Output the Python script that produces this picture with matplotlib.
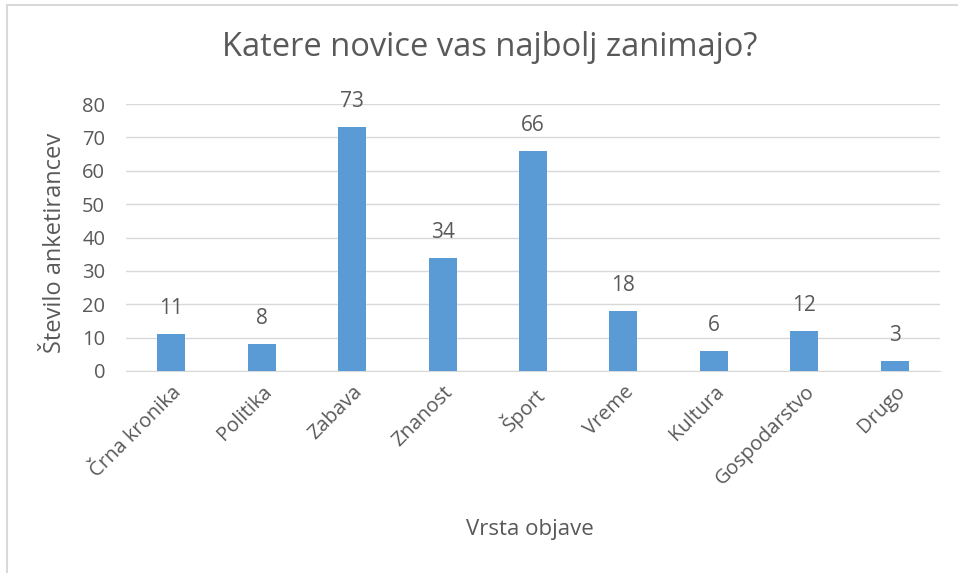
import matplotlib
matplotlib.use("Agg")
import matplotlib.pyplot as plt
from matplotlib.lines import Line2D

categories = ["Črna kronika", "Politika", "Zabava", "Znanost", "Šport",
              "Vreme", "Kultura", "Gospodarstvo", "Drugo"]
values = [11, 8, 73, 34, 66, 18, 6, 12, 3]
yticks = [0, 10, 20, 30, 40, 50, 60, 70, 80]

plt.rcParams['font.family'] = ['Open Sans', 'DejaVu Sans']
grey = '#595959'

fig = plt.figure(figsize=(9.58, 5.73), dpi=100)
ax = fig.add_axes([126/958, 1-371/573, (940-126)/958, (371-104)/573])

x = range(len(categories))
bars = ax.bar(x, values, width=0.31, color='#5B9BD5', zorder=3)
for xi, v in zip(x, values):
    ax.text(xi, v + 4.5, str(v), ha='center', va='bottom', fontsize=15, color=grey)

ax.set_xlim(-0.5, len(categories) - 0.5)
ax.set_ylim(0, 80)
ax.set_yticks(yticks)
ax.grid(axis='y', color='#D9D9D9', linewidth=1, zorder=0)
ax.set_xticks(list(x))
ax.set_xticklabels(categories, rotation=45, ha='right', rotation_mode='anchor',
                   fontsize=14.5, color=grey)
ax.tick_params(axis='y', labelsize=14.5, labelcolor=grey, length=0, pad=15)
ax.tick_params(axis='x', length=0, pad=8)
for s in ['top', 'right', 'left']:
    ax.spines[s].set_visible(False)
ax.spines['bottom'].set_color('#D9D9D9')

fig.text(490/958, 1-48/573, "Katere novice vas najbolj zanimajo?", ha='center', va='center',
         fontsize=23.5, color=grey)
fig.text(55/958, 1-243/573, "Število anketirancev", rotation=90, ha='center', va='center',
         fontsize=17, color=grey)
fig.text(530/958, 1-529/573, "Vrsta objave", ha='center', va='center',
         fontsize=16, color=grey)

# chart border (top and left edges visible)
fig.add_artist(Line2D([7/958, 1], [1-5/573, 1-5/573], color='#D9D9D9', lw=1.5,
                      transform=fig.transFigure))
fig.add_artist(Line2D([7/958, 7/958], [0, 1-5/573], color='#D9D9D9', lw=1.5,
                      transform=fig.transFigure))

fig.savefig('out.png', dpi=100)
